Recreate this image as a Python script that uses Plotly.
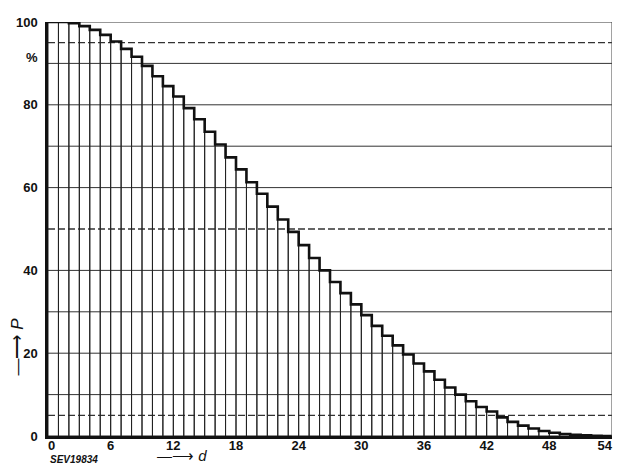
import plotly.graph_objects as go

# d classes (bar left edges) and percentages P
d_values = list(range(54))
p_values = [100, 100, 99.7, 99.0, 98.1, 96.9, 95.3, 93.5, 91.6, 89.4,
            86.9, 84.5, 82.0, 79.2, 76.5, 73.5, 70.4, 67.3, 64.4, 61.3,
            58.5, 55.4, 52.3, 49.3, 46.1, 43.0, 40.0, 37.2, 34.5, 31.8,
            29.2, 26.6, 24.2, 21.9, 19.7, 17.5, 15.6, 13.6, 11.7, 10.0,
            8.4, 7.0, 5.9, 4.5, 3.4, 2.5, 1.8, 1.2, 0.8, 0.5,
            0.3, 0.15, 0.05, 0.0]

x_ticks = [0, 6, 12, 18, 24, 30, 36, 42, 48, 54]
x_ticktext = ["\u20070", "6", "12", "18", "24", "30", "36", "42", "48", "54\u2007\u2007"]
y_ticks = [0, 20, 40, 60, 80, 91.5, 100]
y_ticktext = ["0", "20", "40", "60", "80", "%", "100"]
solid_levels = [10, 20, 30, 40, 60, 70, 80, 90, 100]
dashed_levels = [5, 50, 95]

FONT = "Liberation Sans"

fig = go.Figure()

fig.add_trace(go.Bar(
    x=[d + 0.5 for d in d_values], y=p_values, width=1,
    marker=dict(color="rgba(0,0,0,0)", line=dict(color="#222", width=1)),
    hoverinfo="skip", showlegend=False,
))

step_x = d_values + [d_values[-1] + 1]
step_y = p_values + [p_values[-1]]
fig.add_trace(go.Scatter(
    x=step_x, y=step_y, mode="lines", line=dict(shape="hv", color="#111", width=2.6),
    showlegend=False, hoverinfo="skip",
))

shapes = []
for lv in solid_levels:
    shapes.append(dict(type="line", xref="x", yref="y", x0=0, x1=54, y0=lv, y1=lv,
                       line=dict(color="#333", width=1), layer="below"))
for lv in dashed_levels:
    shapes.append(dict(type="line", xref="x", yref="y", x0=0, x1=54, y0=lv, y1=lv,
                       line=dict(color="#333", width=1.3, dash="7px,3px"), layer="below"))
# right border
shapes.append(dict(type="line", xref="x", yref="y", x0=54, x1=54, y0=0, y1=100,
                   line=dict(color="#444", width=1)))

fig.update_layout(
    width=625, height=464,
    margin=dict(l=40, r=11, t=7, b=36),
    paper_bgcolor="white", plot_bgcolor="white",
    barmode="overlay",
    shapes=shapes,
    font=dict(family=FONT, color="#111"),
    xaxis=dict(range=[0, 54], tickvals=x_ticks, ticktext=x_ticktext, showgrid=False,
               zeroline=False, showline=True, linecolor="#111", linewidth=2.5, ticks="",
               ticklabeloverflow="allow",
               tickfont=dict(family=FONT, size=13, weight="bold"), ticklabelstandoff=-4),
    yaxis=dict(range=[0, 100], tickvals=y_ticks, ticktext=y_ticktext, showgrid=False,
               zeroline=False, showline=True, linecolor="#111", linewidth=2.5, ticks="",
               ticklabeloverflow="allow",
               tickfont=dict(family=FONT, size=13, weight="bold"), ticklabelstandoff=5),
    annotations=[
        dict(text="—⟶ <i>P</i>", xref="paper", yref="paper", x=-0.054, y=0.215,
             textangle=-90, showarrow=False, font=dict(family=FONT, size=17, color="#111"),
             xanchor="center", yanchor="middle"),
        dict(text="—⟶ <i>d</i>", xref="paper", yref="paper", x=0.238, y=-0.046,
             showarrow=False, font=dict(family=FONT, size=15, color="#111"),
             xanchor="center", yanchor="middle"),
        dict(text="<b><i>SEV19834</i></b>", xref="paper", yref="paper", x=0.0, y=-0.056,
             showarrow=False, font=dict(family=FONT, size=10, color="#111"),
             xanchor="left", yanchor="middle"),
    ],
)

fig.write_html("out.html", config={"displayModeBar": False})
